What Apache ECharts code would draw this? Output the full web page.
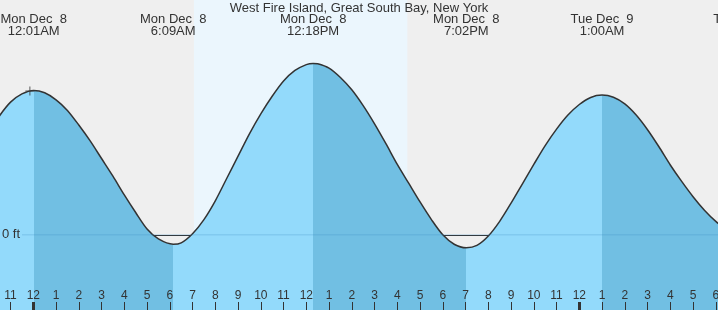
<!DOCTYPE html>
<html>
<head>
<meta charset="utf-8">
<style>
html, body { margin: 0; padding: 0; background: #efefef; }
#chart { width: 718px; height: 310px; }
</style>
<script src="https://cdn.jsdelivr.net/npm/echarts@6/dist/echarts.min.js"></script>
</head>
<body>
<div id="chart"></div>
<script>
// hours counted from Mon Dec 8 00:00, tide height in feet (read every half hour)
var hours = [-2, -1.5, -1, -0.5, 0.017, 0.5, 1, 1.5, 2, 2.5, 3, 3.5, 4, 4.5, 5, 5.5, 6.15,
             6.5, 7, 7.5, 8, 8.5, 9, 9.5, 10, 10.5, 11, 11.5, 12, 12.3,
             12.5, 13, 13.5, 14, 14.5, 15, 15.5, 16, 16.5, 17, 17.5, 18, 18.5, 19.033,
             19.5, 20, 20.5, 21, 21.5, 22, 22.5, 23, 23.5, 24, 24.5, 25,
             25.5, 26, 26.5, 27, 27.5, 28, 28.5, 29, 29.5, 30, 30.5, 31, 31.28];
var feet  = [0.86, 1.01, 1.13, 1.20, 1.23, 1.21, 1.15, 1.06, 0.935, 0.80, 0.65, 0.50, 0.34, 0.19, 0.05, -0.035, -0.08,
             -0.068, 0.01, 0.13, 0.29, 0.48, 0.67, 0.86, 1.03, 1.18, 1.31, 1.40, 1.45, 1.46,
             1.457, 1.42, 1.34, 1.235, 1.10, 0.945, 0.776, 0.60, 0.44, 0.28, 0.13, 0.00, -0.08, -0.11,
             -0.09, -0.01, 0.115, 0.27, 0.435, 0.60, 0.76, 0.90, 1.02, 1.11, 1.17, 1.19,
             1.172, 1.115, 1.02, 0.895, 0.75, 0.595, 0.455, 0.325, 0.21, 0.115, 0.045, 0.005, 0.00];

var extremeHours = [0.017, 6.15, 12.3, 19.033, 25, 31.28];
var extremeFeet  = [1.23, -0.08, 1.46, -0.11, 1.19, 0.00];
var extremeDates = ['Mon Dec  8', 'Mon Dec  8', 'Mon Dec  8', 'Mon Dec  8', 'Tue Dec  9', 'Tue Dec  9'];
var extremeTimes = ['12:01AM', '6:09AM', '12:18PM', '7:02PM', '1:00AM', '7:17AM'];

var firstHour = -2;
var lastHour = 31;
var hourTicks = ['10', '11', '12', '1', '2', '3', '4', '5', '6', '7', '8', '9', '10', '11', '12',
                 '1', '2', '3', '4', '5', '6', '7', '8', '9', '10', '11', '12', '1', '2', '3', '4', '5', '6', '7'];
var midnights = [0, 24];
var daylight = [7.06, 16.44];
var nowMark = [[-0.15, 1.225]];

var title = 'West Fire Island, Great South Bay, New York';

var risingColor = '#93dafb';
var fallingColor = '#71bfe3';

var tide = [];
for (var i = 0; i < hours.length; i++) {
    tide.push([hours[i], feet[i]]);
}

// rising / falling shading between the highs and lows
function isHigh(k) {
    var other = k > 0 ? extremeFeet[k - 1] : extremeFeet[k + 1];
    return extremeFeet[k] > other;
}
var pieces = [{ lt: extremeHours[0], color: isHigh(0) ? risingColor : fallingColor }];
for (var k = 0; k < extremeHours.length - 1; k++) {
    pieces.push({ gte: extremeHours[k], lt: extremeHours[k + 1], color: isHigh(k + 1) ? risingColor : fallingColor });
}
var lastK = extremeHours.length - 1;
pieces.push({ gte: extremeHours[lastK], color: isHigh(lastK) ? fallingColor : risingColor });

var myChart = echarts.init(document.getElementById('chart'));

var option = {
    animation: false,
    backgroundColor: '#efefef',
    textStyle: { fontFamily: 'Liberation Sans' },
    grid: { left: -12.2, top: 0, width: 750.75, height: 310, outerBoundsMode: 'none', containLabel: false },
    visualMap: { type: 'piecewise', show: false, dimension: 0, seriesIndex: 0, pieces: pieces },
    xAxis: [
        {
            type: 'value', min: firstHour, max: lastHour, interval: 1, position: 'bottom', z: 10,
            axisLine: { show: false, onZero: false },
            splitLine: { show: false },
            axisTick: { show: true, inside: true, length: 8, lineStyle: { color: '#333', width: 1 } },
            axisLabel: {
                show: true, inside: true, margin: 8, color: '#333', fontSize: 12,
                fontFamily: 'Liberation Sans', hideOverlap: false,
                formatter: function (v) { return hourTicks[Math.round(v) - firstHour]; }
            }
        },
        {
            type: 'value', min: firstHour, max: lastHour, position: 'bottom', z: 11,
            axisLine: { show: false, onZero: false },
            splitLine: { show: false },
            axisLabel: { show: false },
            axisTick: { show: true, inside: true, length: 8, customValues: midnights, lineStyle: { color: '#333', width: 3 } }
        }
    ],
    yAxis: { type: 'value', min: -0.64, max: 2.0, show: false },
    series: [
        {
            name: 'fill', type: 'line', data: tide, smooth: 0.3, symbol: 'none', z: 2,
            lineStyle: { width: 0, opacity: 0 },
            areaStyle: { origin: 'start', opacity: 1 },
            markArea: {
                silent: true, z: 0,
                itemStyle: { color: '#ebf6fd' },
                data: [[{ xAxis: daylight[0] }, { xAxis: daylight[1] }]]
            },
            markLine: {
                silent: true, z: 1, symbol: 'none',
                label: { show: false },
                lineStyle: { color: '#333', width: 1, type: 'solid' },
                data: [{ yAxis: 0 }]
            }
        },
        {
            name: 'curve', type: 'line', data: tide, smooth: 0.3, symbol: 'none', z: 4,
            lineStyle: { color: '#333', width: 1.5 }
        },
        {
            name: 'now', type: 'scatter', data: nowMark, z: 5,
            symbol: 'path://M0,4h9v1h-9z M4,0h1v9h-1z', symbolSize: 9,
            itemStyle: { color: '#333' }
        }
    ]
};
myChart.setOption(option);

// labels at the top and the 0 ft line, placed through the axes
var y0 = myChart.convertToPixel({ yAxisIndex: 0 }, 0);
var graphics = [
    { type: 'line', z: 10, silent: true, shape: { x1: 22, y1: y0, x2: 718, y2: y0 },
      style: { stroke: 'rgba(60,140,195,0.3)', lineWidth: 1 } },
    { type: 'text', z: 10, x: 2, y: y0,
      style: { text: '0 ft', fill: '#333', font: '13px "Liberation Sans"', verticalAlign: 'middle' } },
    { type: 'text', z: 10, x: 359, y: 8,
      style: { text: title, fill: '#333', font: '13px "Liberation Sans"', align: 'center', verticalAlign: 'middle' } }
];
for (var j = 0; j < extremeHours.length; j++) {
    var px = myChart.convertToPixel({ xAxisIndex: 0 }, extremeHours[j]);
    graphics.push({ type: 'text', z: 10, x: px, y: 19,
        style: { text: extremeDates[j], fill: '#333', font: '13px "Liberation Sans"', align: 'center', verticalAlign: 'middle' } });
    graphics.push({ type: 'text', z: 10, x: px, y: 31,
        style: { text: extremeTimes[j], fill: '#333', font: '13px "Liberation Sans"', align: 'center', verticalAlign: 'middle' } });
}
myChart.setOption({ graphic: graphics });
</script>
</body>
</html>
